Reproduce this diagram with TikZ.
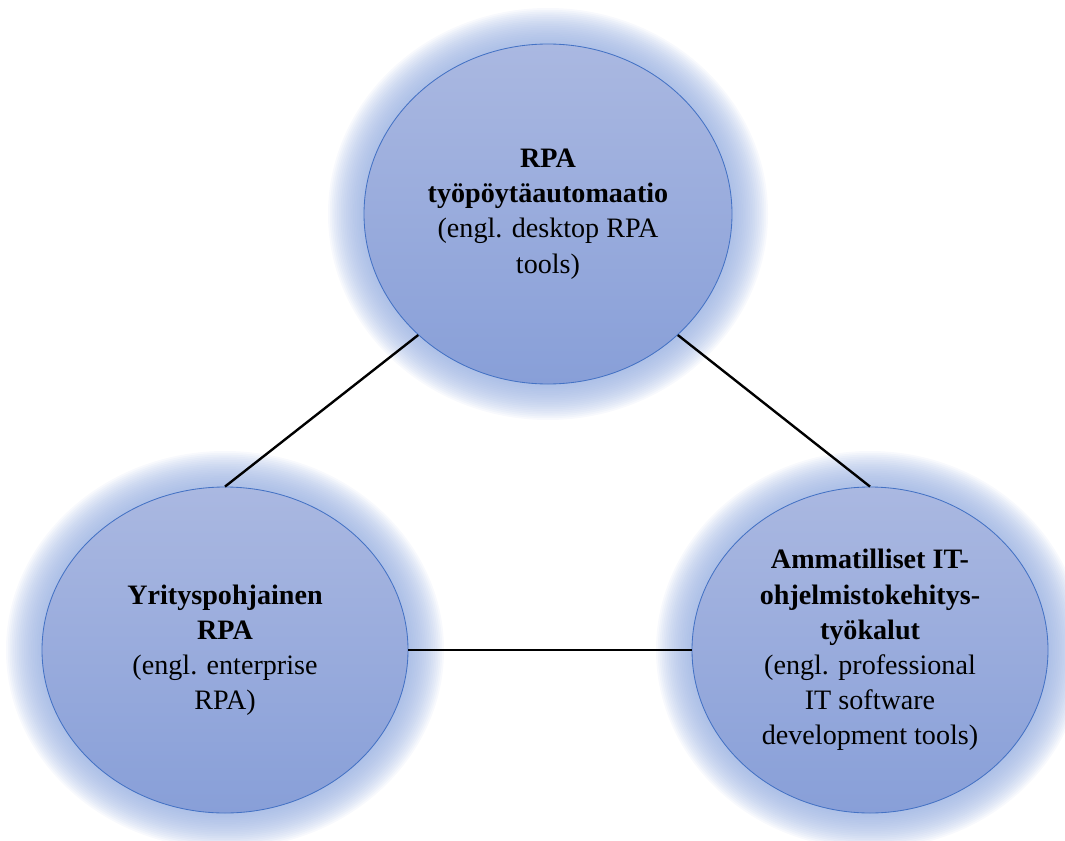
\documentclass[tikz,border=0pt]{standalone}
\usepackage{fontspec}
\setmainfont{Liberation Serif}
\usetikzlibrary{shapes.geometric}
\definecolor{rpatop}{RGB}{170,184,225}
\definecolor{rpabot}{RGB}{136,159,216}
\definecolor{rpaedge}{RGB}{68,114,196}
\definecolor{rpaglow}{RGB}{150,174,224}
\tikzset{
  rpacirc/.style={draw=rpaedge, line width=0.6pt, ellipse, inner sep=0pt,
                  top color=rpatop, bottom color=rpabot, align=center,
                  font=\fontsize{20}{25}\selectfont},
  rpalink/.style={draw=black, line width=1.7pt},
}
\newcommand{\rpaglow}[3]{%
  \foreach \k in {1,...,20}
    \fill[rpaglow, fill opacity=0.07] (#1) ellipse ({#2+0.045*\k} and {#3+0.045*\k});
}

\begin{document}
\begin{tikzpicture}
    \useasboundingbox (0,0) rectangle (26.625,21);
    % soft halo behind each circle
    \rpaglow{13.7,15.65}{4.6}{4.25}
    \rpaglow{5.625,4.75}{4.575}{4.075}
    \rpaglow{21.75,4.75}{4.45}{4.075}
    \node[rpacirc, minimum width=9.2cm, minimum height=8.5cm] (desk) at (13.7,15.65)
      {\textbf{RPA}\\\textbf{työpöytäautomaatio}\\(engl. desktop RPA\\tools)};
    \node[rpacirc, minimum width=9.15cm, minimum height=8.15cm] (ent) at (5.625,4.75)
      {\textbf{Yrityspohjainen}\\\textbf{RPA}\\(engl. enterprise\\RPA)};
    \node[rpacirc, minimum width=8.9cm, minimum height=8.15cm] (prof) at (21.75,4.75)
      {\textbf{Ammatilliset IT-}\\\textbf{ohjelmistokehitys-}\\\textbf{työkalut}\\(engl. professional\\IT software\\development tools)};
    \draw[rpalink] (desk.223) -- (ent.north);
    \draw[rpalink] (desk.317) -- (prof.north);
    \draw[rpalink] (ent.east) -- (prof.west);
  \end{tikzpicture}
\end{document}
